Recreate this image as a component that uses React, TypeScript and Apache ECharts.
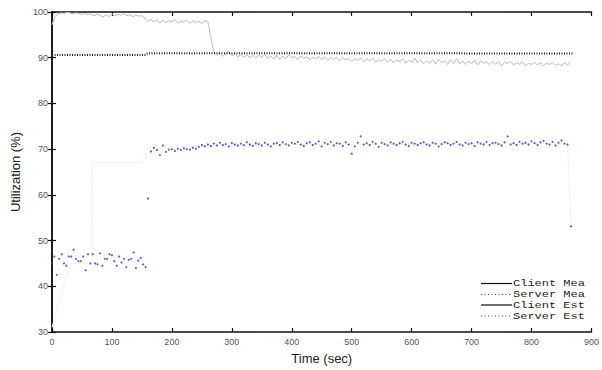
import React, { useEffect, useRef } from "react";
import * as echarts from "echarts";

// Server measured utilisation (blue dots)
const serverMeaEarlyStart = 0;
const serverMeaEarlyStep = 4;
const serverMeaEarly = [
  45, 46.5, 42.5, 46, 47, 45, 44.5, 46.5, 46.5, 48, 46, 45.5, 45.5, 46.5, 43.5, 47, 45, 47, 45, 44.8,
  47.2, 44.5, 46, 46, 47, 46.8, 45.5, 44.5, 46.5, 45.2, 46, 44.2, 45.8, 46, 47.4, 44, 45.6, 46.2, 44.8, 44.2,
];
const serverMeaJump: [number, number] = [160, 59.2];
const serverMeaLateStart = 165;
const serverMeaLateStep = 5;
const serverMeaLate = [
  69.5, 70.3, 69.8, 68.7, 70.8, 69.4, 69.9, 70.0, 69.6, 70.1,
  69.8, 70.2, 70.0, 69.9, 70.3, 70.1, 70.5, 70.9, 70.6, 71.0,
  70.7, 71.2, 70.8, 71.4, 70.9, 71.1, 70.6, 71.3, 71.0, 70.8,
  71.2, 70.9, 71.5, 71.0, 70.7, 71.3, 71.1, 70.8, 71.4, 71.0,
  70.6, 71.2, 71.3, 70.9, 71.5, 71.1, 70.8, 71.4, 71.2, 71.6,
  71.0, 70.7, 71.3, 71.5, 70.9, 71.2, 71.7, 70.6, 71.4, 71.1,
  71.6, 70.8, 71.3, 71.2, 70.7, 71.5, 71.0, 69.0, 70.6, 71.4,
  72.8, 71.0, 71.3, 70.9, 71.6, 71.2, 70.5, 71.4, 71.1, 70.8,
  71.5, 71.2, 70.9, 71.3, 71.6, 71.0, 70.7, 71.4, 71.2, 70.9,
  71.3, 71.5, 71.0, 70.8, 71.4, 71.2, 70.6, 71.1, 71.5, 71.3,
  70.9, 71.2, 71.6, 71.0, 70.8, 71.4, 71.1, 71.3, 70.7, 71.5,
  71.2, 71.0, 71.6, 70.9, 71.3, 71.4, 71.1, 70.8, 71.5, 72.8,
  71.0, 71.3, 70.9, 71.6, 71.2, 71.4, 71.0, 71.7, 71.3, 70.9,
  71.5, 71.8, 71.2, 71.0, 71.6, 70.8, 71.4, 71.9, 71.2, 71.0,
];
const serverMeaEnd: [number, number] = [866, 53.1];

// Client measured utilisation (light grey line), every 5 s from 0
const clientMeaStep = 5;
const clientMea = [
  97.2, 99.0, 99.6, 99.8, 99.7, 99.9, 99.8, 99.6, 99.8, 99.7, 99.5, 99.7, 99.4, 99.6, 99.2, 99.5, 99.3, 98.9, 99.4, 99.0,
  99.6, 99.1, 99.5, 99.3, 99.6, 99.2, 99.4, 99.0, 99.3, 99.1, 99.2, 98.6, 98.0, 98.4, 97.8, 98.3, 97.6, 98.2, 97.7, 98.1,
  97.9, 98.3, 97.6, 98.0, 97.8, 98.2, 97.5, 98.1, 97.7, 98.0, 97.4, 98.2, 97.9, 94.5, 91.2, 90.5, 91.0, 90.3, 90.8, 91.3,
  90.4, 90.9, 90.2, 90.7, 90.1, 90.6, 90.0, 90.5, 89.9, 90.6, 90.1, 90.7, 89.8, 90.4, 89.7, 90.5, 89.6, 90.3, 89.8, 90.6,
  90.0, 90.3, 89.6, 90.4, 89.9, 90.2, 89.5, 90.1, 89.7, 90.3, 89.6, 90.2, 89.4, 90.0, 89.6, 90.1, 89.3, 90.0, 89.5, 89.9,
  89.2, 89.8, 89.4, 90.0, 89.1, 89.7, 89.3, 89.9, 89.0, 89.6, 89.2, 89.8, 89.0, 89.7, 88.9, 89.5, 89.1, 89.8, 88.8, 89.5,
  89.0, 89.9, 88.9, 89.6, 88.7, 89.4, 88.8, 89.6, 88.6, 89.7, 88.9, 89.3, 88.5, 89.6, 88.7, 89.8, 88.6, 89.4, 88.5, 89.2,
  88.7, 89.5, 88.4, 89.3, 88.8, 89.0, 88.5, 89.2, 88.6, 89.1, 88.3, 89.0, 88.7, 89.2, 88.4, 88.9, 88.6, 89.1, 88.3, 88.8,
  88.5, 89.0, 88.4, 88.9, 88.2, 88.8, 88.5, 89.0, 88.3, 88.7, 88.2, 88.9, 88.4, 89.0,
];

// Client estimated utilisation (dark dotted line)
const clientEst: [number, number][] = [
  [0, 90.6], [155, 90.6], [160, 91.0], [500, 91.0], [870, 90.9],
];

// Server estimated utilisation (faint line)
const serverEst: [number, number][] = [
  [0, 31], [15, 38], [30, 45], [65, 45], [68, 67], [150, 67], [160, 70], [200, 70.5], [400, 71], [860, 71.2], [866, 53],
];

const xTicks = { min: 0, max: 900, interval: 100 };
const yTicks = { min: 30, max: 100, interval: 10 };

const legendLabels = ["Client Mea", "Server Mea", "Client Est", "Server Est"];

export default function App() {
  const ref = useRef<HTMLDivElement>(null);
  useEffect(() => {
    if (!ref.current) return;
    const chart = echarts.init(ref.current, undefined, { renderer: "svg" });

    const serverMeaData: [number, number][] = [];
    serverMeaEarly.forEach((v, i) => serverMeaData.push([serverMeaEarlyStart + i * serverMeaEarlyStep, v]));
    serverMeaData.push(serverMeaJump);
    serverMeaLate.forEach((v, i) => serverMeaData.push([serverMeaLateStart + i * serverMeaLateStep, v]));
    serverMeaData.push(serverMeaEnd);
    const clientMeaData = clientMea.map((v, i) => [i * clientMeaStep, v]);

    const axisLine = { show: true, lineStyle: { color: "#111", width: 1.5 } };
    const tickStyle = { show: true, inside: true, length: 4, lineStyle: { color: "#111", width: 1.2 } };
    const labelStyle = { color: "#555", fontSize: 9, fontFamily: "Liberation Sans, Arial, sans-serif" };

    const legendRows = [283.5, 294.5, 305, 316];
    const legendGraphics: any[] = [];
    legendLabels.forEach((lab, i) => {
      const y = legendRows[i];
      const dotted = i % 2 === 1;
      legendGraphics.push({
        type: "line",
        shape: { x1: 481, y1: y, x2: 512, y2: y },
        style: dotted
          ? { stroke: "#3a3aa8", lineWidth: 1, lineDash: [1, 2.5] }
          : { stroke: "#111", lineWidth: 1.2 },
        z: 10,
      });
      legendGraphics.push({
        type: "text",
        x: 513,
        y: y,
        scaleY: 0.75,
        style: {
          text: lab,
          fontFamily: "Liberation Mono, Courier New, monospace",
          fontSize: 12,
          fill: "#222",
          verticalAlign: "middle",
        },
        z: 10,
      });
    });

    chart.setOption({
      animation: false,
      backgroundColor: "#fff",
      grid: { left: 52, right: 6, top: 12, bottom: 37 },
      xAxis: [
        {
          type: "value",
          ...xTicks,
          name: "Time (sec)",
          nameLocation: "middle",
          nameGap: 20,
          nameTextStyle: { color: "#222", fontSize: 13, fontFamily: "Liberation Sans, Arial, sans-serif" },
          axisLine,
          axisTick: tickStyle,
          axisLabel: { ...labelStyle, margin: 5 },
          splitLine: { show: false },
        },
        {
          type: "value",
          position: "top",
          ...xTicks,
          axisLine,
          axisTick: tickStyle,
          axisLabel: { show: false },
          splitLine: { show: false },
        },
      ],
      yAxis: [
        {
          type: "value",
          ...yTicks,
          name: "Utilization (%)",
          nameLocation: "middle",
          nameGap: 26,
          nameTextStyle: { color: "#222", fontSize: 13, fontFamily: "Liberation Sans, Arial, sans-serif" },
          axisLine,
          axisTick: tickStyle,
          axisLabel: { ...labelStyle, margin: 4 },
          splitLine: { show: false },
        },
        {
          type: "value",
          position: "right",
          ...yTicks,
          axisLine,
          axisTick: tickStyle,
          axisLabel: { show: false },
          splitLine: { show: false },
        },
      ],
      series: [
        {
          name: "Server Est",
          type: "line",
          data: serverEst,
          showSymbol: false,
          lineStyle: { color: "#f2f2f2", width: 1 },
          z: 1,
        },
        {
          name: "Client Mea",
          type: "line",
          data: clientMeaData,
          showSymbol: false,
          lineStyle: { color: "#bbbbbb", width: 1 },
          z: 2,
        },
        {
          name: "Client Est",
          type: "line",
          data: clientEst,
          showSymbol: false,
          lineStyle: { color: "#222", width: 2, type: [1, 1.5] },
          z: 3,
        },
        {
          name: "Server Mea",
          type: "scatter",
          data: serverMeaData,
          symbol: "circle",
          symbolSize: 2.2,
          itemStyle: { color: "#3b3ba6" },
          z: 4,
        },
      ],
      graphic: legendGraphics,
    });
    return () => chart.dispose();
  }, []);
  return (
    <div
      ref={ref}
      style={{ position: "fixed", left: 0, top: 0, width: 602, height: 370 }}
    />
  );
}
